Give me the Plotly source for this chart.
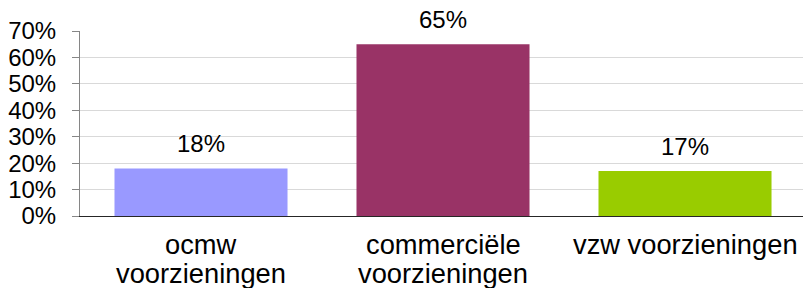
import plotly.graph_objects as go

categories = ["ocmw<br>voorzieningen", "commerciële<br>voorzieningen", "vzw voorzieningen"]
values = [18, 65, 17]
labels = ["18%", "65%", "17%"]
colors = ["#9999FF", "#993366", "#99CC00"]
y_ticks = [0, 10, 20, 30, 40, 50, 60, 70]
y_tick_labels = [f"{v}%" for v in y_ticks]

FONT = "Liberation Sans, Arial, sans-serif"

fig = go.Figure(go.Bar(
    x=categories, y=values,
    marker=dict(color=colors, line=dict(width=0)),
    cliponaxis=False, hoverinfo="skip",
))

annotations = []
# value labels above bars
for cat, val, lab in zip(categories, values, labels):
    annotations.append(dict(
        x=cat, y=val, xref="x", yref="y", text=lab, showarrow=False,
        yanchor="bottom", xanchor="center", yshift=9,
        font=dict(family=FONT, size=24, color="#000000"),
    ))
# category labels (tight line spacing)
for cat in categories:
    for i, line in enumerate(cat.split("<br>")):
        annotations.append(dict(
            x=cat, y=0, xref="x", yref="y", text=line, showarrow=False,
            yanchor="middle", xanchor="center", yshift=-28.5 - 29.3 * i,
            font=dict(family=FONT, size=27.3, color="#000000"),
        ))

fig.update_layout(
    width=803, height=288,
    margin=dict(l=80, r=0, t=31, b=72, autoexpand=False),
    paper_bgcolor="white", plot_bgcolor="white",
    font=dict(family=FONT, size=24, color="#000000"),
    bargap=0.285, showlegend=False, annotations=annotations,
)
fig.update_yaxes(
    range=[0, 70], tickvals=y_ticks, ticktext=y_tick_labels,
    showgrid=True, gridcolor="#D9D9D9", gridwidth=1,
    showline=True, linecolor="#868686", linewidth=1,
    ticks="outside", ticklen=7, tickcolor="#868686",
    ticklabelstandoff=11,
    zeroline=False, tickfont=dict(size=24), automargin=False,
)
fig.update_xaxes(
    range=[-0.5, 2.4876],
    showline=True, linecolor="#262626", linewidth=1,
    ticks="", showticklabels=False, automargin=False,
)
fig.write_html("out.html", config={"displayModeBar": False},
               post_script="document.body.style.margin='0';")
